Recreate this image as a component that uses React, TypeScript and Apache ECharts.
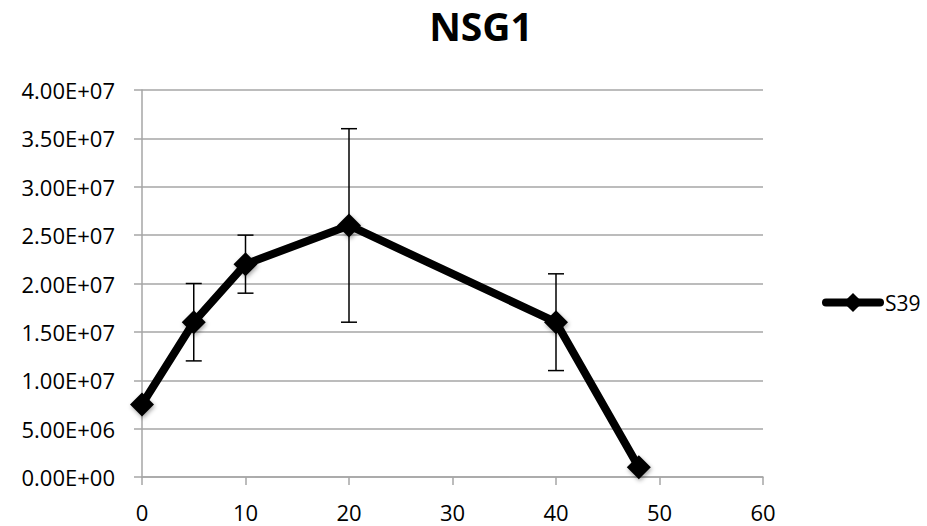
import React, { useEffect, useRef } from "react";
import * as echarts from "echarts";

const xValues = [0, 5, 10, 20, 40, 48];
const yValues = [7.5e6, 1.6e7, 2.2e7, 2.6e7, 1.6e7, 1.0e6];
const errLow: (number | null)[] = [null, 1.2e7, 1.9e7, 1.6e7, 1.1e7, null];
const errHigh: (number | null)[] = [null, 2.0e7, 2.5e7, 3.6e7, 2.1e7, null];
const seriesName = "S39";
const titleText = "NSG1";

function fmtSci(v: number): string {
  if (v === 0) return "0.00E+00";
  const s = v.toExponential(2);
  const [m, e] = s.split("e");
  const sign = e[0] === "-" ? "-" : "+";
  const digits = e.replace(/[+-]/, "").padStart(2, "0");
  return `${m}E${sign}${digits}`;
}

export default function App() {
  const ref = useRef<HTMLDivElement>(null);
  useEffect(() => {
    if (!ref.current) return;
    const chart = echarts.init(ref.current, undefined, { renderer: "svg" });
    const errData = xValues
      .map((x, i) => (errLow[i] != null && errHigh[i] != null ? [x, errLow[i], errHigh[i]] : null))
      .filter((d) => d !== null);
    const font = "Open Sans";
    chart.setOption({
      animation: false,
      backgroundColor: "#ffffff",
      textStyle: { fontFamily: font },
      title: {
        text: titleText,
        left: 476,
        textAlign: "center",
        top: 1,
        textStyle: { fontFamily: font, fontWeight: "bold", fontSize: 39, color: "#000" },
      },
      legend: {
        left: 822,
        top: 292,
        padding: 0,
        itemWidth: 54,
        itemHeight: 24,
        itemGap: 0,
        data: [seriesName],
        lineStyle: { width: 8, color: "#000", cap: "round" },
        itemStyle: { color: "#000" },
        textStyle: { fontFamily: font, fontSize: 21, color: "#000" },
      },
      grid: { left: 142, right: 164, top: 90, bottom: 49 },
      xAxis: {
        type: "value",
        min: 0,
        max: 60,
        interval: 10,
        axisLine: { show: true, onZero: false, lineStyle: { color: "#a6a6a6", width: 1.5 } },
        axisTick: { show: true, length: 8, inside: false, lineStyle: { color: "#a6a6a6", width: 1.5 } },
        splitLine: { show: false },
        axisLabel: { fontFamily: font, fontSize: 22, color: "#000", margin: 24 },
      },
      yAxis: {
        type: "value",
        min: 0,
        max: 4e7,
        interval: 5e6,
        axisLine: { show: true, onZero: false, lineStyle: { color: "#a6a6a6", width: 1.5 } },
        axisTick: { show: true, length: 8, inside: false, lineStyle: { color: "#a6a6a6", width: 1.5 } },
        splitLine: { show: true, lineStyle: { color: "#a6a6a6", width: 1.5 } },
        axisLabel: {
          fontFamily: font,
          fontSize: 22,
          color: "#000",
          margin: 27,
          padding: [6, 0, 0, 0],
          formatter: (v: number) => fmtSci(v),
        },
      },
      series: [
        {
          type: "custom",
          name: "err",
          z: 1,
          data: errData,
          renderItem: (params: any, api: any) => {
            const x = api.value(0);
            const lo = api.coord([x, api.value(1)]);
            const hi = api.coord([x, api.value(2)]);
            const hw = 8;
            const style = { stroke: "#000", lineWidth: 1.5 };
            return {
              type: "group",
              children: [
                { type: "line", shape: { x1: lo[0], y1: lo[1], x2: hi[0], y2: hi[1] }, style },
                { type: "line", shape: { x1: lo[0] - hw, y1: lo[1], x2: lo[0] + hw, y2: lo[1] }, style },
                { type: "line", shape: { x1: hi[0] - hw, y1: hi[1], x2: hi[0] + hw, y2: hi[1] }, style },
              ],
            };
          },
        },
        {
          type: "line",
          name: seriesName,
          z: 3,
          data: xValues.map((x, i) => [x, yValues[i]]),
          symbol: "diamond",
          symbolSize: 24,
          lineStyle: { color: "#000", width: 8, cap: "round", join: "round" },
          itemStyle: {
            color: "#000",
            shadowColor: "rgba(0,0,0,0.35)",
            shadowBlur: 4,
            shadowOffsetX: 1,
            shadowOffsetY: 2,
          },
        },
      ],
    });
    return () => chart.dispose();
  }, []);
  return (
    <div
      ref={ref}
      style={{ position: "fixed", left: 0, top: 0, width: 927, height: 526, overflow: "hidden" }}
    />
  );
}
